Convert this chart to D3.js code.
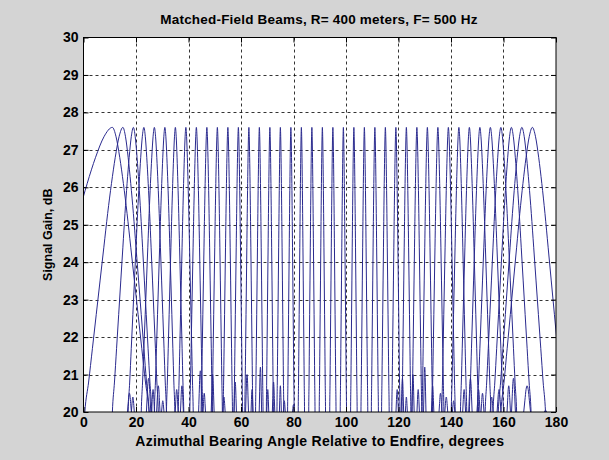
<!DOCTYPE html>
<html>
<head>
<meta charset="utf-8">
<script src="https://cdn.jsdelivr.net/npm/d3@7"></script>
<style>
body { margin: 0; background: #d4d4d4; }
svg { display: block; font-family: "Liberation Sans", Arial, sans-serif; font-weight: bold; }
</style>
</head>
<body>
<svg id="chart" width="609" height="460"></svg>
<script>
// axis ticks
var xTicks = [0, 20, 40, 60, 80, 100, 120, 140, 160, 180];
var yTicks = [20, 21, 22, 23, 24, 25, 26, 27, 28, 29, 30];

// beam steering angles (peak positions, degrees)
var beamPeaks = [11, 15, 19, 23, 27, 31, 35, 39, 43, 47, 51, 55, 59, 63, 67, 71, 75, 79, 83, 87, 91,
                 95, 99, 103, 107, 111, 115, 119, 123, 127, 131, 135, 139, 143, 147, 151, 155, 159, 163, 167, 171];
var beamGain = [27.6, 27.6, 27.6, 27.6, 27.6, 27.6, 27.6, 27.6, 27.6, 27.6, 27.6, 27.6, 27.6, 27.6,
                27.6, 27.6, 27.6, 27.6, 27.6, 27.6, 27.6, 27.6, 27.6, 27.6, 27.6, 27.6, 27.6, 27.6,
                27.6, 27.6, 27.6, 27.6, 27.6, 27.6, 27.6, 27.6, 27.6, 27.6, 27.6, 27.6, 27.6];
// distance (deg) from peak to where each lobe reaches 20 dB, left and right side
var beamWidthLeft = [32, 14.5, 8, 6, 5, 4.0, 3.4, 2.9, 2.5, 2.2, 2.0, 1.8, 1.65, 1.55, 1.45, 1.35, 1.3, 1.25, 1.2, 1.2, 1.2,
                     1.2, 1.2, 1.25, 1.3, 1.35, 1.45, 1.55, 1.65, 1.8, 2.0, 2.2, 2.5, 2.9, 3.4, 4.0, 5, 6, 7, 9, 12];
var beamWidthRight = [14, 10, 7, 5.5, 4.6, 3.8, 3.2, 2.8, 2.4, 2.1, 1.9, 1.75, 1.6, 1.5, 1.4, 1.35, 1.3, 1.25, 1.2, 1.2, 1.2,
                      1.2, 1.2, 1.25, 1.3, 1.35, 1.45, 1.55, 1.7, 1.85, 2.0, 2.3, 2.6, 3.0, 3.5, 4.2, 5, 6, 7.5, 9, 12];
// main lobe shape: drop below peak (dB) at fraction of the width
var lobeFrac = [0, 0.1, 0.2, 0.3, 0.4, 0.5, 0.6, 0.7, 0.8, 0.9, 1.0, 1.1];
var lobeDrop = [0, 0.25, 0.8, 1.5, 2.3, 3.2, 4.1, 5.0, 5.9, 6.8, 7.6, 9.5];

// small sidelobes poking above 20 dB
var sideAngles = [17.5, 18.8, 24.8, 26.5, 28.5, 30.2, 35.5, 37.5, 44.5, 46.0, 49.2, 53.5, 57.8, 62.3, 64.2,
                  67.4, 70.2, 72.4, 75.0, 76.5, 80.0,
                  119.5, 121.5, 123.0, 125.5, 127.5, 130.0, 133.0, 136.0, 138.2, 141.0, 145.0, 147.4,
                  150.5, 152.0, 155.5, 158.3, 162.0, 163.8, 169.0, 176.0];
var sideGain = [20.5, 20.4, 20.9, 20.6, 20.7, 20.3, 20.6, 20.7, 21.1, 20.5, 21.0, 20.4, 20.8, 21.0, 20.6,
                21.2, 20.6, 20.8, 20.7, 20.3, 20.2,
                20.6, 20.9, 20.4, 21.0, 20.6, 21.2, 20.7, 20.5, 20.4, 20.3, 20.6, 20.9,
                20.6, 20.5, 20.4, 20.6, 20.7, 20.9, 20.7, 20.05];
var sideWidth = [0.8, 0.6, 0.9, 0.6, 0.7, 0.5, 0.6, 0.6, 0.7, 0.5, 0.6, 0.5, 0.5, 0.6, 0.4,
                 0.5, 0.4, 0.5, 0.4, 0.4, 0.4,
                 0.5, 0.5, 0.4, 0.5, 0.5, 0.5, 0.5, 0.6, 0.6, 0.5, 0.6, 0.7,
                 0.6, 0.6, 0.6, 0.8, 0.7, 0.8, 1.4, 0.5];
var sideShape = [[-1, -0.1], [-0.6, 0.45], [-0.3, 0.85], [0, 1], [0.3, 0.85], [0.6, 0.45], [1, -0.1]];

var pad_left = 83.5, pad_right = 556, pad_top = 37.5, pad_bot = 412;
var lineColor = "#2a2a8e";

var svg = d3.select("#chart");
var x = d3.scaleLinear().domain([0, 180]).range([pad_left, pad_right]);
var y = d3.scaleLinear().domain([20, 30]).range([pad_bot, pad_top]);

svg.append("rect")
    .attr("x", pad_left).attr("y", pad_top)
    .attr("width", pad_right - pad_left).attr("height", pad_bot - pad_top)
    .attr("fill", "#fff");

svg.append("clipPath").attr("id", "plotclip")
    .append("rect")
    .attr("x", pad_left).attr("y", pad_top)
    .attr("width", pad_right - pad_left).attr("height", pad_bot - pad_top);

// grid
var grid = svg.append("g").attr("stroke", "#000").attr("stroke-width", 0.8).attr("stroke-dasharray", "3,3");
grid.selectAll(".gx").data(xTicks.slice(1, -1)).enter().append("line")
    .attr("x1", function (d) { return Math.round(x(d)) + 0.5; })
    .attr("x2", function (d) { return Math.round(x(d)) + 0.5; })
    .attr("y1", pad_top).attr("y2", pad_bot);
grid.selectAll(".gy").data(yTicks.slice(1, -1)).enter().append("line")
    .attr("y1", function (d) { return Math.round(y(d)) + 0.5; })
    .attr("y2", function (d) { return Math.round(y(d)) + 0.5; })
    .attr("x1", pad_left).attr("x2", pad_right);

// build beam point lists
var beams = beamPeaks.map(function (p, i) {
    var pts = [];
    for (var k = lobeFrac.length - 1; k > 0; k--) {
        pts.push([p - lobeFrac[k] * beamWidthLeft[i], beamGain[i] - lobeDrop[k]]);
    }
    for (var k = 0; k < lobeFrac.length; k++) {
        pts.push([p + lobeFrac[k] * beamWidthRight[i], beamGain[i] - lobeDrop[k]]);
    }
    return pts;
});
var sides = sideAngles.map(function (a, i) {
    return sideShape.map(function (s) {
        return [a + s[0] * sideWidth[i], 20 + s[1] * (sideGain[i] - 20)];
    });
});

var line = d3.line()
    .x(function (d) { return x(d[0]); })
    .y(function (d) { return y(d[1]); })
    .curve(d3.curveMonotoneX);

var plot = svg.append("g").attr("clip-path", "url(#plotclip)");
plot.selectAll(".side").data(sides).enter().append("path")
    .attr("class", "side")
    .attr("d", line)
    .attr("fill", "none").attr("stroke", lineColor).attr("stroke-width", 1);
plot.selectAll(".beam").data(beams).enter().append("path")
    .attr("class", "beam")
    .attr("d", line)
    .attr("fill", "none").attr("stroke", lineColor).attr("stroke-width", 1);

// axes with inward ticks
var fontSize = 14;
svg.append("g").attr("transform", "translate(0," + pad_bot + ")")
    .call(d3.axisBottom(x).tickValues(xTicks).tickSizeInner(-5).tickSizeOuter(0).tickPadding(5));
svg.append("g").attr("transform", "translate(" + pad_left + ",0)")
    .call(d3.axisLeft(y).tickValues(yTicks).tickSizeInner(-5).tickSizeOuter(0).tickPadding(5));
svg.append("g").attr("transform", "translate(0," + pad_top + ")")
    .call(d3.axisTop(x).tickValues(xTicks).tickSizeInner(-5).tickSizeOuter(0).tickFormat(""));
svg.append("g").attr("transform", "translate(" + pad_right + ",0)")
    .call(d3.axisRight(y).tickValues(yTicks).tickSizeInner(-5).tickSizeOuter(0).tickFormat(""));
svg.selectAll(".domain").remove();
svg.selectAll(".tick text").attr("font-size", fontSize).attr("font-family", "Liberation Sans, Arial, sans-serif")
    .attr("font-weight", "bold").attr("fill", "#000");

svg.append("rect")
    .attr("x", pad_left).attr("y", pad_top)
    .attr("width", pad_right - pad_left).attr("height", pad_bot - pad_top)
    .attr("fill", "none").attr("stroke", "#000").attr("stroke-width", 1);

// texts
svg.append("text")
    .attr("x", 319).attr("y", 24)
    .attr("text-anchor", "middle").attr("font-size", 13.5).attr("letter-spacing", 0.2)
    .text("Matched-Field Beams, R= 400 meters, F= 500 Hz");
svg.append("text")
    .attr("x", (pad_left + pad_right) / 2).attr("y", 446)
    .attr("text-anchor", "middle").attr("font-size", 14).attr("letter-spacing", 0.3)
    .text("Azimuthal Bearing Angle Relative to Endfire, degrees");
svg.append("text")
    .attr("transform", "translate(52," + ((pad_top + pad_bot) / 2 + 10) + ") rotate(-90)")
    .attr("text-anchor", "middle").attr("font-size", 12.5)
    .text("Signal Gain, dB");
</script>
</body>
</html>
